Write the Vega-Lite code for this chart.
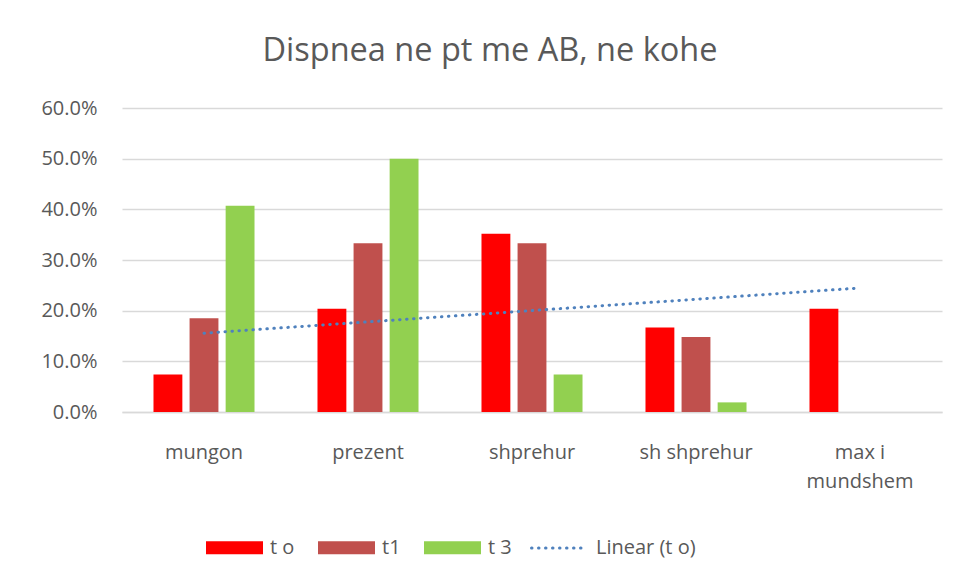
{
  "$schema": "https://vega.github.io/schema/vega-lite/v6.json",
  "width": 820,
  "height": 304,
  "autosize": {"type": "none"},
  "padding": {"left": 122, "top": 108, "right": 14, "bottom": 170},
  "background": "white",
  "title": {
    "text": "Dispnea ne pt me AB, ne kohe",
    "font": "Open Sans",
    "fontSize": 32.5,
    "fontWeight": "normal",
    "color": "#595959",
    "anchor": "middle",
    "frame": "group",
    "dx": -42,
    "offset": 31
  },
  "config": {
    "view": {"stroke": null},
    "font": "Open Sans",
    "text": {"font": "Open Sans"}
  },
  "datasets": {
    "bars": [
      {"category": "mungon", "series": "t o", "value": 0.074},
      {"category": "mungon", "series": "t1", "value": 0.185},
      {"category": "mungon", "series": "t 3", "value": 0.407},
      {"category": "prezent", "series": "t o", "value": 0.204},
      {"category": "prezent", "series": "t1", "value": 0.333},
      {"category": "prezent", "series": "t 3", "value": 0.5},
      {"category": "shprehur", "series": "t o", "value": 0.352},
      {"category": "shprehur", "series": "t1", "value": 0.333},
      {"category": "shprehur", "series": "t 3", "value": 0.074},
      {"category": "sh shprehur", "series": "t o", "value": 0.167},
      {"category": "sh shprehur", "series": "t1", "value": 0.148},
      {"category": "sh shprehur", "series": "t 3", "value": 0.019},
      {"category": "max i mundshem", "series": "t o", "value": 0.204},
      {"category": "max i mundshem", "series": "t1", "value": 0},
      {"category": "max i mundshem", "series": "t 3", "value": 0}
    ],
    "trend": [
      {"category": "mungon", "series": "Linear (t o)", "value": 0.1556},
      {"category": "max i mundshem", "series": "Linear (t o)", "value": 0.2448}
    ]
  },
  "layer": [
    {
      "data": {"name": "bars"},
      "mark": {"type": "bar"},
      "encoding": {
        "x": {
          "field": "category",
          "type": "nominal",
          "sort": ["mungon", "prezent", "shprehur", "sh shprehur", "max i mundshem"],
          "scale": {"paddingInner": 0.34, "paddingOuter": 0.17},
          "axis": {
            "title": null,
            "labelAngle": 0,
            "labelFont": "Open Sans",
            "labelFontSize": 20,
            "labelColor": "#595959",
            "labelPadding": 30,
            "labelLineHeight": 29,
            "labelExpr": "datum.value == 'max i mundshem' ? ['max i', 'mundshem'] : datum.value",
            "ticks": false,
            "domainColor": "#D9D9D9",
            "domainWidth": 1.5,
            "grid": false
          }
        },
        "xOffset": {
          "field": "series",
          "type": "nominal",
          "sort": ["t o", "t1", "t 3"],
          "scale": {"paddingInner": 0.2, "paddingOuter": 0.1}
        },
        "y": {
          "field": "value",
          "type": "quantitative",
          "scale": {"domain": [0, 0.6]},
          "axis": {
            "title": null,
            "format": ".1%",
            "values": [0, 0.1, 0.2, 0.3, 0.4, 0.5, 0.6],
            "labelOverlap": false,
            "labelFont": "Open Sans",
            "labelFontSize": 20,
            "labelColor": "#595959",
            "labelPadding": 25,
            "ticks": false,
            "domain": false,
            "gridColor": "#D9D9D9",
            "gridWidth": 1.5
          }
        },
        "color": {
          "field": "series",
          "type": "nominal",
          "scale": {
            "domain": ["t o", "t1", "t 3"],
            "range": ["#FF0000", "#C0504D", "#92D050"]
          },
          "legend": {
            "title": null,
            "orient": "none",
            "direction": "horizontal",
            "legendX": 84,
            "legendY": 411,
            "labelFont": "Open Sans",
            "labelFontSize": 20,
            "labelColor": "#595959",
            "labelOffset": 7,
            "columnPadding": 23,
            "symbolSize": 3249,
            "symbolType": "M-1,-0.228H1V0.228H-1Z",
            "symbolStrokeWidth": 0
          }
        }
      }
    },
    {
      "data": {"name": "trend"},
      "mark": {"type": "line", "strokeWidth": 3, "strokeDash": [0.5, 6.5], "strokeCap": "round"},
      "encoding": {
        "x": {"field": "category", "type": "nominal", "sort": ["mungon", "prezent", "shprehur", "sh shprehur", "max i mundshem"]},
        "y": {"field": "value", "type": "quantitative"},
        "stroke": {
          "field": "series",
          "type": "nominal",
          "scale": {"domain": ["Linear (t o)"], "range": ["#4F81BD"]},
          "legend": {
            "title": null,
            "orient": "none",
            "direction": "horizontal",
            "legendX": 408,
            "legendY": 411,
            "labelFont": "Open Sans",
            "labelFontSize": 20,
            "labelColor": "#595959",
            "labelOffset": 8,
            "symbolType": "stroke",
            "symbolSize": 3025,
            "symbolStrokeWidth": 3,
            "symbolDash": [0.5, 6.5],
            "symbolStrokeColor": "#4F81BD",
            "encode": {"symbols": {"update": {"strokeCap": {"value": "round"}}}}
          }
        }
      }
    }
  ]
}
